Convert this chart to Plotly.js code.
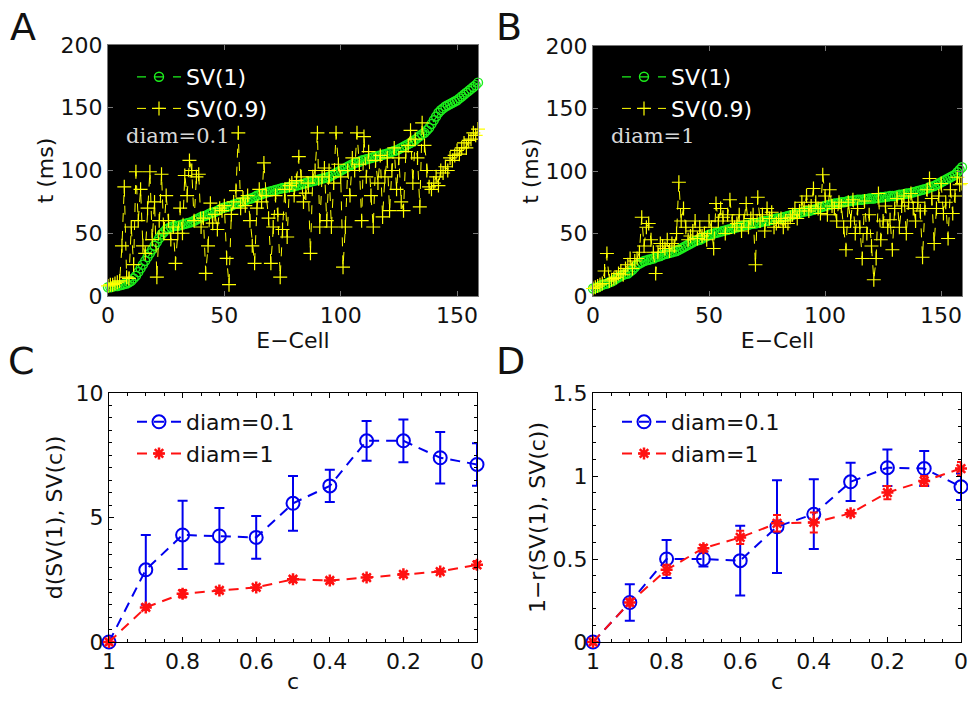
<!DOCTYPE html>
<html>
<head>
<meta charset="utf-8">
<script src="https://cdn.plot.ly/plotly-3.0.1.min.js"></script>
<style>html,body{margin:0;padding:0;background:#fff;}#chart{width:968px;height:701px;}</style>
</head>
<body>
<div id="chart"></div>
<script>
// ---------- Data ----------
const cells = [0,1,2,3,4,5,6,7,8,9,10,11,12,13,14,15,16,17,18,19,20,21,22,23,24,25,26,27,28,29,30,31,32,33,34,35,36,37,38,39,40,41,42,43,44,45,46,47,48,49,50,51,52,53,54,55,56,57,58,59,60,61,62,63,64,65,66,67,68,69,70,71,72,73,74,75,76,77,78,79,80,81,82,83,84,85,86,87,88,89,90,91,92,93,94,95,96,97,98,99,100,101,102,103,104,105,106,107,108,109,110,111,112,113,114,115,116,117,118,119,120,121,122,123,124,125,126,127,128,129,130,131,132,133,134,135,136,137,138,139,140,141,142,143,144,145,146,147,148,149,150,151,152,153,154,155,156,157,158,159];

// Panel A (diam=0.1)
const svA_1 = [7,7,7.5,8,8,8.5,9,9.5,10,11,
 12,14,16,19,22,25,28,31,34,37,
 40,43,46,49,51,53,54,55,55.5,56,
 56,56.5,57,57.5,58,58.5,59,60,61,62,
 63,63.5,64,65,66,66.5,67,68,69,70,
 70.5,71,71.5,72,73,73.5,74,74.5,75,76,
 77,77.5,78,79,80,80.5,81,82,82.5,83,
 83.5,84,84.5,85,85.5,86,86,86.5,87,87,
 87.5,88,88.5,89,89.5,90,90.5,91,91.5,92,
 92.5,93,93.5,94,94.5,95,96,97,98,99,
 100,101,102,103,104,105,106,106.5,107,108,
 108.5,109,109.5,110,110.5,111,111.5,112,112.5,113,
 113.5,114,115,115.5,116,117,118,119,120,121,
 122,123,124.5,126,127.5,129,130,132,134,137,
 140,143,146,148,149.5,151,152,153,154,155,
 156,157.5,159,160.5,162,163.5,165,166.5,168,170];
const svA_09 = [8,9,9,10,11,12,40,87,15,14,
 55,25,99,60,85,40,34,70,99,45,
 75,15,60,97,50,80,60,45,55,26,
 50,70,50,96,80,108,100,60,95,97,
 55,62,18,40,74,58,65,53,70,68,
 72,30,9,65,75,84,130,70,78,72,
 80,60,40,26,70,85,75,106,80,62,
 26,55,80,65,15,53,85,47,88,90,
 80,92,111,95,75,82,90,34,95,100,
 130,55,95,102,60,100,55,90,130,105,
 95,23,55,100,80,110,100,130,105,60,
 127,95,115,80,55,108,90,112,63,95,
 110,68,100,118,85,110,75,68,115,120,
 132,90,125,110,71,138,120,100,87,85,
 90,95,88,100,98,103,100,110,108,112,
 116,113,118,122,118,124,125,130,128,133];

// Panel B (diam=1)
const svB_1 = [6,6.5,7,8,9,9.5,10,11,11.5,12.5,
 14,15,16,17,17.5,18,19.5,21,23,25,
 26,27,28,28.5,29,29.5,30,31,31.5,32,
 33,33.5,34,34.5,35,35.5,36,37,38,39,
 40,41,42,43,44,44.5,45,46,47,48,
 49,49.5,50,50.5,51,51.5,52,52.5,53,53.5,
 54,54.5,55,55.5,56,56.5,57,57,57.5,58,
 58,58.5,59,59.5,60,60,60.5,61,61.5,62,
 62,62.5,63,63.5,64,64.5,65,65.5,66,66.5,
 67,67.5,68,68,68.5,69,69.5,70,71,71.5,
 72,72.5,73,73.5,74,74,74.5,75,75,75.5,
 76,76,76.5,76.5,77,77,77,77.5,77.5,78,
 78,78,78.5,78.5,79,79,79.5,79.5,80,80,
 80,80.5,81,81,81.5,82,82,82.5,83,83.5,
 84,84.5,85,85.5,86,87,87.5,88,89,90,
 91,92,93,94,95,96,97,99,101,103];
const svB_09 = [6,7,8,9,10,20,34,12,13,14,
 15,18,20,17,22,25,30,22,28,30,
 35,63,40,55,58,45,35,18,35,42,
 40,38,45,36,42,40,50,91,60,70,
 55,45,48,52,60,46,55,48,50,45,
 60,55,38,74,60,70,63,50,65,77,
 60,55,58,65,52,60,74,55,62,65,
 25,79,60,65,52,70,62,67,55,58,
 60,62,55,60,58,63,65,70,62,68,
 75,70,80,68,72,86,75,70,66,97,
 80,65,85,72,70,60,75,72,55,37,
 75,60,77,50,70,55,30,76,50,65,
 40,13,30,82,45,60,72,55,61,37,
 70,78,55,72,80,50,75,82,70,60,
 75,68,31,70,85,94,78,42,70,80,
 90,66,75,46,85,66,80,95,89,90];

// Panels C, D
const cVals = [1,0.9,0.8,0.7,0.6,0.5,0.4,0.3,0.2,0.1,0];
const dC_01 = [0,2.9,4.3,4.26,4.2,5.57,6.27,8.08,8.08,7.4,7.13];
const dC_01_err = [0,1.4,1.37,1.12,0.86,1.1,0.65,0.8,0.86,1.03,0.85];
const dC_1 = [0,1.39,1.94,2.07,2.19,2.52,2.47,2.59,2.72,2.83,3.1];
const dC_1_err = [0,0.1,0.15,0.1,0.1,0.1,0.1,0.1,0.1,0.08,0.15];
const rD_01 = [0,0.238,0.5,0.5,0.49,0.695,0.77,0.965,1.05,1.045,0.935];
const rD_01_err = [0,0.11,0.115,0.045,0.21,0.28,0.21,0.115,0.11,0.105,0.08];
const rD_1 = [0,0.238,0.435,0.565,0.63,0.715,0.72,0.775,0.9,0.97,1.045];
const rD_1_err = [0,0.02,0.03,0.02,0.04,0.05,0.06,0.01,0.04,0.03,0.04];

// ---------- Styles ----------
const FONT = 'DejaVu Sans, Liberation Sans, Arial, sans-serif';
const SERIF = 'DejaVu Serif, Liberation Serif, serif';
const GREEN = '#1cf01c', YELLOW = '#ffff00', BLUE = '#0000ee', RED = '#ff1111';

function svTraces(xa, ya, leg, y1, y09) {
  return [
    {x: cells, y: y1, xaxis: xa, yaxis: ya, legend: leg, name: 'SV(1)', type: 'scatter', mode: 'lines+markers', cliponaxis: false,
     line: {color: GREEN, width: 1.2, dash: 'dash'},
     marker: {symbol: 'circle-open', size: 9, color: GREEN, line: {width: 1.4, color: GREEN}}},
    {x: cells, y: y09, xaxis: xa, yaxis: ya, legend: leg, name: 'SV(0.9)', type: 'scatter', mode: 'lines+markers', cliponaxis: false,
     line: {color: YELLOW, width: 1, dash: 'dash'},
     marker: {symbol: 'cross-thin-open', size: 10, color: YELLOW, line: {width: 1.2, color: YELLOW}}}
  ];
}
function cTraces(xa, ya, leg, yb, eb, yr, er) {
  return [
    {x: cVals, y: yb, xaxis: xa, yaxis: ya, legend: leg, name: 'diam=0.1', type: 'scatter', mode: 'lines+markers', cliponaxis: false,
     line: {color: BLUE, width: 2, dash: '10px,7px'},
     marker: {symbol: 'circle-open', size: 13, color: BLUE, line: {width: 2, color: BLUE}},
     error_y: {type: 'data', array: eb, visible: true, color: BLUE, thickness: 2, width: 5}},
    {x: cVals, y: yr, xaxis: xa, yaxis: ya, legend: leg, name: 'diam=1', type: 'scatter', mode: 'lines+markers', cliponaxis: false,
     line: {color: RED, width: 2, dash: '10px,7px'},
     marker: {symbol: 'asterisk-open', size: 10, color: RED, line: {width: 2.5, color: RED}},
     error_y: {type: 'data', array: er, visible: true, color: RED, thickness: 2, width: 4}}
  ];
}

const data = [].concat(
  svTraces('x', 'y', 'legend', svA_1, svA_09),
  svTraces('x2', 'y2', 'legend2', svB_1, svB_09),
  cTraces('x3', 'y3', 'legend3', dC_01, dC_01_err, dC_1, dC_1_err),
  cTraces('x4', 'y4', 'legend4', rD_01, rD_01_err, rD_1, rD_1_err)
);

const W = 968, H = 701;
const dx = (a, b) => [a / W, b / W];
const dy = (top, bot) => [1 - bot / H, 1 - top / H];

function ax(domain, anchor, range, extra, lineColor) {
  return Object.assign({
    domain: domain, anchor: anchor, range: range, autorange: false,
    showgrid: false, zeroline: false, showline: true, mirror: 'ticks',
    linecolor: lineColor, linewidth: 1, ticks: 'inside', ticklen: 5, tickcolor: lineColor,
    tickfont: {family: FONT, size: 22, color: '#111'}
  }, extra);
}
const tfont = {family: FONT, size: 22, color: '#111'};

const legBase = {xanchor: 'left', yanchor: 'top', bgcolor: 'rgba(0,0,0,0)', tracegroupgap: 0, itemwidth: 44};

const layout = {
  width: W, height: H,
  margin: {l: 0, r: 0, t: 0, b: 0},
  paper_bgcolor: '#ffffff', plot_bgcolor: 'rgba(0,0,0,0)',
  font: {family: FONT, size: 22, color: '#111'},
  showlegend: true,
  xaxis: ax(dx(108, 478), 'y', [0, 159], {tickvals: [0, 50, 100, 150], title: {text: 'E\u2212Cell', font: tfont, standoff: 0}}, '#777'),
  yaxis: ax(dy(45, 296), 'x', [0, 200], {tickvals: [0, 50, 100, 150, 200], title: {text: 't (ms)', font: tfont, standoff: 0}}, '#777'),
  xaxis2: ax(dx(593, 962), 'y2', [0, 159], {tickvals: [0, 50, 100, 150], title: {text: 'E\u2212Cell', font: tfont, standoff: 0}}, '#777'),
  yaxis2: ax(dy(46, 296), 'x2', [0, 200], {tickvals: [0, 50, 100, 150, 200], title: {text: 't (ms)', font: tfont, standoff: 0}}, '#777'),
  xaxis3: ax(dx(109, 477), 'y3', [1, 0], {tickvals: [1, 0.8, 0.6, 0.4, 0.2, 0], ticktext: ['1', '0.8', '0.6', '0.4', '0.2', '0'], title: {text: 'c', font: tfont, standoff: 0},
    minor: {ticks: 'inside', ticklen: 3, dtick: 0.05, tickcolor: '#000'}}, '#000'),
  yaxis3: ax(dy(393, 642), 'x3', [0, 10], {tickvals: [0, 5, 10], title: {text: 'd(SV(1), SV(c))', font: tfont, standoff: 6},
    minor: {ticks: 'inside', ticklen: 3, dtick: 0.5, tickcolor: '#000'}}, '#000'),
  xaxis4: ax(dx(593, 961), 'y4', [1, 0], {tickvals: [1, 0.8, 0.6, 0.4, 0.2, 0], ticktext: ['1', '0.8', '0.6', '0.4', '0.2', '0'], title: {text: 'c', font: tfont, standoff: 0},
    minor: {ticks: 'inside', ticklen: 3, dtick: 0.05, tickcolor: '#000'}}, '#000'),
  yaxis4: ax(dy(393, 642), 'x4', [0, 1.5], {tickvals: [0, 0.5, 1, 1.5], ticktext: ['0', '0.5', '1', '1.5'], title: {text: '1\u2212r(SV(1), SV(c))', font: tfont, standoff: 0},
    minor: {ticks: 'inside', ticklen: 3, dtick: 0.1, tickcolor: '#000'}}, '#000'),
  legend: Object.assign({x: 132 / W, y: 1 - 56 / H, font: {family: FONT, size: 22, color: '#ffffff'}}, legBase),
  legend2: Object.assign({x: 617 / W, y: 1 - 56 / H, font: {family: FONT, size: 22, color: '#ffffff'}}, legBase),
  legend3: Object.assign({x: 132 / W, y: 1 - 401 / H, font: {family: FONT, size: 22, color: '#111'}}, legBase),
  legend4: Object.assign({x: 617 / W, y: 1 - 401 / H, font: {family: FONT, size: 22, color: '#111'}}, legBase),
  shapes: [
    {type: 'rect', xref: 'x domain', yref: 'y domain', x0: 0, x1: 1, y0: 0, y1: 1, fillcolor: '#000', line: {width: 0}, layer: 'below'},
    {type: 'rect', xref: 'x2 domain', yref: 'y2 domain', x0: 0, x1: 1, y0: 0, y1: 1, fillcolor: '#000', line: {width: 0}, layer: 'below'}
  ],
  annotations: [
    {text: 'A', xref: 'paper', yref: 'paper', x: 8 / W, y: 1 - 3 / H, xanchor: 'left', yanchor: 'top', showarrow: false, font: {family: FONT, size: 38, color: '#111'}},
    {text: 'B', xref: 'paper', yref: 'paper', x: 494 / W, y: 1 - 3 / H, xanchor: 'left', yanchor: 'top', showarrow: false, font: {family: FONT, size: 38, color: '#111'}},
    {text: 'C', xref: 'paper', yref: 'paper', x: 6 / W, y: 1 - 337 / H, xanchor: 'left', yanchor: 'top', showarrow: false, font: {family: FONT, size: 38, color: '#111'}},
    {text: 'D', xref: 'paper', yref: 'paper', x: 494 / W, y: 1 - 337 / H, xanchor: 'left', yanchor: 'top', showarrow: false, font: {family: FONT, size: 38, color: '#111'}},
    {text: 'diam=0.1', xref: 'paper', yref: 'paper', x: 124 / W, y: 1 - 136 / H, xanchor: 'left', yanchor: 'middle', showarrow: false, font: {family: SERIF, size: 21, color: '#d8d8d8'}},
    {text: 'diam=1', xref: 'paper', yref: 'paper', x: 609 / W, y: 1 - 136 / H, xanchor: 'left', yanchor: 'middle', showarrow: false, font: {family: SERIF, size: 21, color: '#d8d8d8'}}
  ]
};

Plotly.newPlot('chart', data, layout, {displayModeBar: false, staticPlot: true});
</script>
</body>
</html>
